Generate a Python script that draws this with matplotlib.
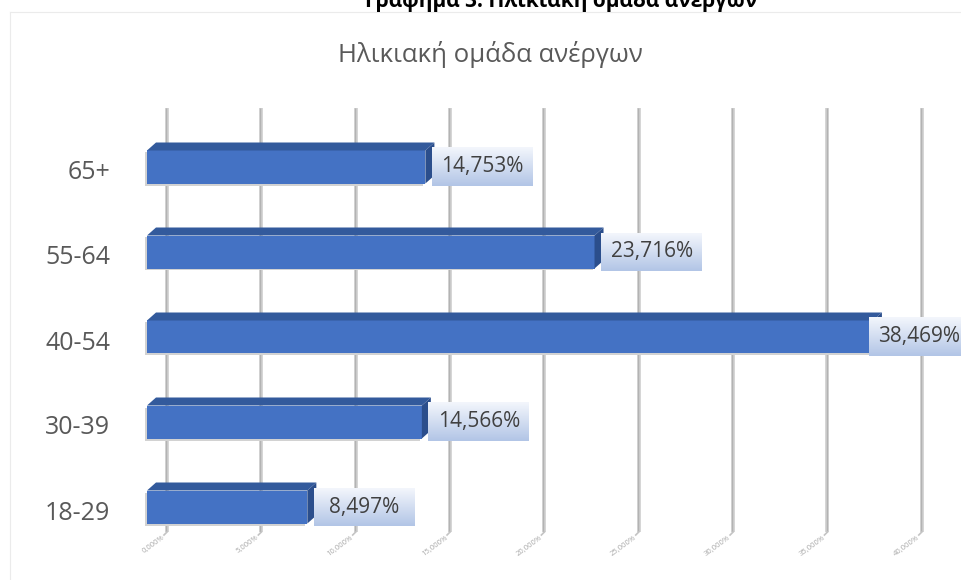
import numpy as np
import matplotlib.pyplot as plt
from matplotlib.patches import Polygon, Rectangle
from matplotlib.lines import Line2D
from matplotlib.colors import LinearSegmentedColormap

plt.rcParams['font.family'] = ['Open Sans', 'DejaVu Sans']

# data (bottom category first)
categories = ['18-29', '30-39', '40-54', '55-64', '65+']
values = [8.497, 14.566, 38.469, 23.716, 14.753]
value_labels = ['8,497%', '14,566%', '38,469%', '23,716%', '14,753%']
grid_ticks = [0, 5, 10, 15, 20, 25, 30, 35, 40]
grid_labels = ['0,000%', '5,000%', '10,000%', '15,000%', '20,000%',
               '25,000%', '30,000%', '35,000%', '40,000%']
fig_title = 'Γράφημα 3: Ηλικιακή ομάδα ανέργων'
chart_title = 'Ηλικιακή ομάδα ανέργων'

# layout (pixels)
W, H = 961, 580
PX_X = 18.87    # pixels per percent
PX_Y = 85.0     # pixels per category
X0_PX = 147     # 0% on the front plane
Y0_PX = 513     # first category label

front = '#4472C4'
top_col = '#335A9C'
side_col = '#2B4E8C'

fig = plt.figure(figsize=(W / 100, H / 100), dpi=100)
ax = fig.add_axes([0, 0, 1, 1])
ax.axis('off')

# 3d offsets in data units
bar_dx, bar_dy = 9 / PX_X, 8 / PX_Y
wall_dx = 20 / PX_X
half_h = 16.5 / PX_Y
bar_shift = 6 / PX_Y
grid_bot = (Y0_PX - 532) / PX_Y
grid_top = (Y0_PX - 108) / PX_Y

# back wall gridlines + floor labels
for g, lab in zip(grid_ticks, grid_labels):
    xg = g + wall_dx
    ax.plot([xg, xg], [grid_bot, grid_top], color='#CDCDCD', lw=2.6,
            solid_capstyle='butt', zorder=1)
    ax.plot([xg - 0.05, xg - 0.05], [grid_bot, grid_top], color='#B3B3B3',
            lw=0.9, solid_capstyle='butt', zorder=1)
    ax.plot([xg, xg - 3 / PX_X], [grid_bot, grid_bot - 3 / PX_Y],
            color='#C4C4C4', lw=1.2, zorder=1)
    ax.text(xg - 1 / PX_X, grid_bot - 2 / PX_Y, lab, rotation=36,
            ha='right', va='top', fontsize=5.5, color='#A8A8A8', zorder=1)

grad = np.linspace(0, 1, 60).reshape(-1, 1)
box_cmap = LinearSegmentedColormap.from_list('lbl', ['#F3F6FC', '#B2C5E6'])
box_w = 101 / PX_X
box_h = 38 / PX_Y
box_max = (869 - X0_PX) / PX_X

for k, (v, lab) in enumerate(zip(values, value_labels)):
    yc = k + bar_shift
    yb, yt = yc - half_h, yc + half_h
    # soft shadow
    ax.add_patch(Rectangle((-2 / PX_X, yb - 2 / PX_Y), v, 2 * half_h,
                           color='#D2D2D2', lw=0, zorder=2))
    ax.add_patch(Rectangle((0, yb), v, 2 * half_h, color=front, lw=0, zorder=3))
    ax.add_patch(Polygon([(0, yt), (bar_dx, yt + bar_dy), (v + bar_dx, yt + bar_dy), (v, yt)],
                         closed=True, color=top_col, lw=0, zorder=3))
    ax.add_patch(Polygon([(v, yb), (v + bar_dx, yb + bar_dy), (v + bar_dx, yt + bar_dy), (v, yt)],
                         closed=True, color=side_col, lw=0, zorder=3))
    # data label box
    bx0 = min(v + 0.35, box_max)
    ax.imshow(grad, extent=[bx0, bx0 + box_w, yc - box_h / 2, yc + box_h / 2],
              origin='upper', cmap=box_cmap, aspect='auto', zorder=4)
    ax.text(bx0 + box_w / 2, yc, lab, ha='center', va='center',
            fontsize=15, color='#404040', zorder=5)
    # category label
    ax.text(-1.96, k, categories[k], ha='right', va='center',
            fontsize=18, color='#595959')

ax.set_xlim(-X0_PX / PX_X, (W - X0_PX) / PX_X)
ax.set_ylim((Y0_PX - H) / PX_Y, Y0_PX / PX_Y)

# chart area border
fig.add_artist(Line2D([10 / W, 10 / W], [0, 1 - 12 / H], color='#EBEBEB', lw=0.8))
fig.add_artist(Line2D([10 / W, 1], [1 - 12 / H, 1 - 12 / H], color='#EBEBEB', lw=0.8))

fig.text(561 / W, 1 - 7 / H, fig_title, ha='center', va='baseline',
         fontsize=15, fontweight='bold', color='black')
fig.text(490 / W, 1 - 62 / H, chart_title, ha='center', va='baseline',
         fontsize=18.5, color='#595959')

fig.savefig('out.png', dpi=100)
